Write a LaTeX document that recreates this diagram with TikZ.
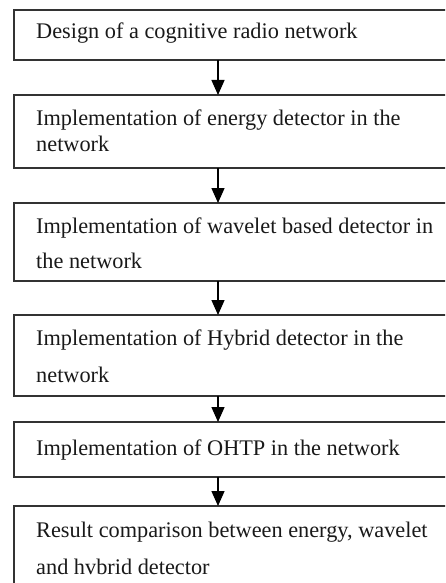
\documentclass[tikz,border=0pt]{standalone}
\usepackage{fontspec}
\setmainfont{Liberation Serif}
\usetikzlibrary{arrows.meta}
\begin{document}
\begin{tikzpicture}[x=1pt,y=-1pt,
  box/.style={draw=black!80,line width=1.3pt,rectangle,inner sep=0pt,outer sep=0pt,anchor=north west,minimum width=460pt},
  txt/.style={anchor=base west,inner sep=0pt,font=\fontsize{22.3}{26}\selectfont,text=black!90},
  arr/.style={line width=1.4pt,draw=black,-{Triangle[length=15pt,width=13pt]}}]
\useasboundingbox (0,0) rectangle (445,583);
\clip (0,0) rectangle (445,583);
\coordinate (ax) at (218,0);
\node[box,minimum height=50pt] (b1) at (14,10) {};
\node[box,minimum height=73pt] (b2) at (14,95) {};
\node[box,minimum height=78pt] (b3) at (14,203) {};
\node[box,minimum height=81pt] (b4) at (14,315) {};
\node[box,minimum height=55pt] (b5) at (14,422) {};
\node[box,minimum height=100pt] (b6) at (14,506) {};
\node[txt] (t1) at (36,39) {Design of a cognitive radio network};
\node[txt] (t2a) at (36,125) {Implementation of energy detector in the};
\node[txt] (t2b) at (36,151) {network};
\node[txt] (t3a) at (36,233) {Implementation of wavelet based detector in};
\node[txt] (t3b) at (36,268) {the network};
\node[txt] (t4a) at (36,345) {Implementation of Hybrid detector in the};
\node[txt] (t4b) at (36,382) {network};
\node[txt] (t5) at (36,455) {Implementation of OHTP in the network};
\node[txt] (t6a) at (36,537) {Result comparison between energy, wavelet};
\node[txt] (t6b) at (36,574) {and hvbrid detector};
\draw[arr] (b1.south -| ax) -- (b2.north -| ax);
\draw[arr] (b2.south -| ax) -- (b3.north -| ax);
\draw[arr] (b3.south -| ax) -- (b4.north -| ax);
\draw[arr] (b4.south -| ax) -- (b5.north -| ax);
\draw[arr] (b5.south -| ax) -- (b6.north -| ax);
\end{tikzpicture}
\end{document}
